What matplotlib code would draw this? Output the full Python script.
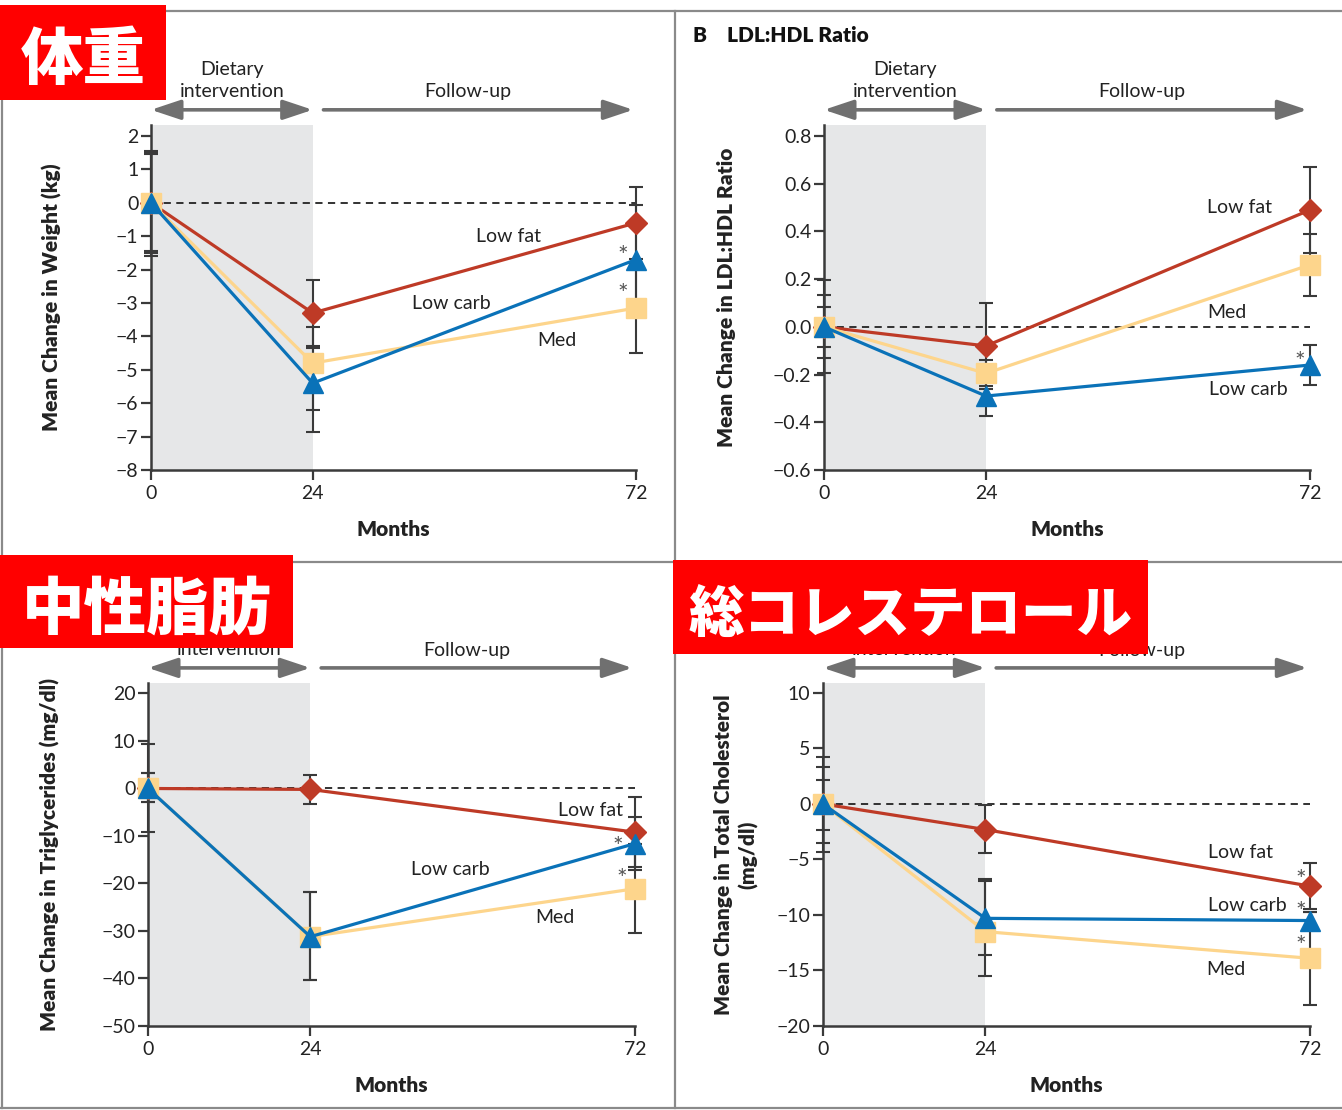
import matplotlib
matplotlib.use("Agg")
import numpy as np
import matplotlib.pyplot as plt
from matplotlib.lines import Line2D
from matplotlib.patches import Rectangle

plt.rcParams['font.family'] = ['Lato', 'Noto Sans CJK JP', 'DejaVu Sans']

W, H = 1342, 1110

# ---------- data ----------
months = [0, 24, 72]
series_names = ["Low fat", "Med", "Low carb"]

# weight (kg)
wt_mean = {"Low fat": [0, -3.3, -0.6], "Med": [0, -4.8, -3.15], "Low carb": [0, -5.4, -1.7]}
wt_lo = {"Low fat": [-1.5, -4.3, -1.67], "Med": [-1.45, -6.2, -4.5], "Low carb": [-1.58, -6.87, -3.3]}
wt_hi = {"Low fat": [1.5, -2.3, 0.47], "Med": [1.45, -3.72, -1.8], "Low carb": [1.54, -4.35, -0.08]}

# LDL:HDL ratio
lh_mean = {"Low fat": [0, -0.08, 0.49], "Med": [0, -0.195, 0.26], "Low carb": [0, -0.29, -0.16]}
lh_lo = {"Low fat": [-0.085, -0.26, 0.31], "Med": [-0.131, -0.25, 0.13], "Low carb": [-0.194, -0.375, -0.245]}
lh_hi = {"Low fat": [0.085, 0.10, 0.67], "Med": [0.134, -0.14, 0.39], "Low carb": [0.197, -0.21, -0.075]}

# triglycerides (mg/dl)
tg_mean = {"Low fat": [0, -0.2, -9.2], "Med": [0, -31.2, -21.1], "Low carb": [0, -31.2, -11.6]}
tg_lo = {"Low fat": [-2.8, -3.3, -16.5], "Med": [-9.1, -40.4, -30.5], "Low carb": [-2.8, -40.4, -17.2]}
tg_hi = {"Low fat": [3.2, 2.8, -1.9], "Med": [9.3, -21.8, -11.7], "Low carb": [3.2, -21.8, -6.0]}

# total cholesterol (mg/dl)
tc_mean = {"Low fat": [0, -2.3, -7.4], "Med": [0, -11.5, -13.9], "Low carb": [0, -10.3, -10.5]}
tc_lo = {"Low fat": [-2.3, -4.4, -9.5], "Med": [-4.3, -15.5, -18.1], "Low carb": [-3.5, -13.6, -11.3]}
tc_hi = {"Low fat": [2.2, -0.05, -5.3], "Med": [4.24, -6.8, -9.7], "Low carb": [3.34, -6.95, -9.7]}

wt_ticks = [2, 1, 0, -1, -2, -3, -4, -5, -6, -7, -8]
lh_ticks = [0.8, 0.6, 0.4, 0.2, 0.0, -0.2, -0.4, -0.6]
tg_ticks = [20, 10, 0, -10, -20, -30, -40, -50]
tc_ticks = [10, 5, 0, -5, -10, -15, -20]

# series label positions (month, value) and asterisks
wt_labels = {"Low fat": (53.1, -1.0), "Low carb": (44.6, -3.0), "Med": (60.2, -4.13)}
wt_stars = [(70.0, -1.6), (70.0, -2.75)]
lh_labels = {"Low fat": (61.6, 0.5), "Med": (59.7, 0.06), "Low carb": (62.8, -0.264)}
lh_stars = [(70.5, -0.15)]
tg_labels = {"Low fat": (65.4, -4.6), "Low carb": (44.7, -17.1), "Med": (60.2, -27.2)}
tg_stars = [(69.5, -12.4), (70.0, -19.2)]
tc_labels = {"Low fat": (61.7, -4.4), "Low carb": (62.7, -9.1), "Med": (59.6, -14.9)}
tc_stars = [(70.6, -6.9), (70.6, -9.8), (70.6, -12.85)]

style = {
    "Low fat": dict(color="#BE3A26", marker="D", ms=11, z=3),
    "Med": dict(color="#FDD58C", marker="s", ms=14, z=4),
    "Low carb": dict(color="#0A72B8", marker="^", ms=14, z=5),
}

fig = plt.figure(figsize=(W / 100, H / 100), dpi=100)


def fx(px):
    return px / W


def fy(py):
    return 1 - py / H


def px_axes(left, top, right, bottom):
    return fig.add_axes([fx(left), fy(bottom), (right - left) / W, (bottom - top) / H])


def fmt_tick(v, dec):
    s = f"{abs(v):.{dec}f}"
    return ("\u2212" + s) if v < 0 else s


def draw_panel(ax, mean, lo, hi, ylim, ticks, dec, ylabel, labels, stars, ylab_x):
    ax.set_xlim(0, 72)
    ax.set_ylim(*ylim)
    ax.axvspan(0, 24, color="#e6e7e8", lw=0, zorder=0)
    ax.axhline(0, color="#222222", lw=1.3, ls=(0, (4, 3)), zorder=1)

    for name in series_names:
        m = np.array(mean[name])
        err = [m - np.array(lo[name]), np.array(hi[name]) - m]
        eb = ax.errorbar(months, m, yerr=err, fmt="none", ecolor="#3a3a3a",
                         elinewidth=1.5, capsize=5, capthick=1.5, zorder=2)
        for art in list(eb.lines[1]) + list(eb.lines[2]):
            art.set_clip_on(False)
    for name in series_names:
        st = style[name]
        ax.plot(months, mean[name], color=st["color"], lw=2.3, marker=st["marker"],
                ms=st["ms"], mec=st["color"], mfc=st["color"], zorder=st["z"], clip_on=False)

    for name, (x, y) in labels.items():
        ax.text(x, y, name, ha="center", va="center", fontsize=14, color="#222222", zorder=6)
    for x, y in stars:
        ax.text(x, y, "*", ha="center", va="center", fontsize=18, color="#555555", zorder=6)

    for s in ["top", "right"]:
        ax.spines[s].set_visible(False)
    for s in ["left", "bottom"]:
        ax.spines[s].set_color("#3a3a3a")
        ax.spines[s].set_linewidth(1.8)
    ax.spines["bottom"].set_bounds(0, 72)

    ax.set_xticks(months)
    ax.set_xticklabels([str(m) for m in months])
    ax.set_yticks(ticks)
    ax.set_yticklabels([fmt_tick(t, dec) for t in ticks])
    ax.tick_params(axis="x", length=7.5, width=1.6, color="#3a3a3a", pad=3, labelsize=14, labelcolor="#222222")
    ax.tick_params(axis="y", length=7, width=1.6, color="#3a3a3a", pad=2, labelsize=14, labelcolor="#222222")

    ax.set_xlabel("Months", fontsize=15, fontweight="heavy", color="#222222")
    ax.xaxis.set_label_coords(0.5, -0.145)
    ax.set_ylabel(ylabel, fontsize=15, fontweight="heavy", color="#222222", linespacing=1.3)
    ax.yaxis.set_label_coords(ylab_x, 0.5)

    # period arrows
    ya = 1.044
    ax.annotate("", xy=(24, ya), xytext=(0, ya), xycoords=("data", "axes fraction"),
                arrowprops=dict(arrowstyle="<|-|>,head_length=0.9,head_width=0.3", color="#707070",
                                lw=2.6, shrinkA=0, shrinkB=0, mutation_scale=20), annotation_clip=False)
    ax.annotate("", xy=(71.6, ya), xytext=(25.6, ya), xycoords=("data", "axes fraction"),
                arrowprops=dict(arrowstyle="-|>,head_length=0.9,head_width=0.3", color="#707070",
                                lw=2.6, shrinkA=0, shrinkB=0, mutation_scale=20), annotation_clip=False)
    ax.text(12, 1.13, "Dietary\nintervention", transform=ax.get_xaxis_transform(), ha="center",
            va="center", fontsize=14, color="#222222", linespacing=1.35)
    ax.text(47.1, 1.096, "Follow-up", transform=ax.get_xaxis_transform(), ha="center",
            va="center", fontsize=14, color="#222222")


ax1 = px_axes(151, 125, 636, 470)
draw_panel(ax1, wt_mean, wt_lo, wt_hi, (-8, 2.33), wt_ticks, 0,
           "Mean Change in Weight (kg)", wt_labels, wt_stars, -0.183)

ax2 = px_axes(824, 125, 1310, 470)
draw_panel(ax2, lh_mean, lh_lo, lh_hi, (-0.6, 0.846), lh_ticks, 1,
           "Mean Change in LDL:HDL Ratio", lh_labels, lh_stars, -0.182)

ax3 = px_axes(148, 683, 635, 1026)
draw_panel(ax3, tg_mean, tg_lo, tg_hi, (-50, 22.2), tg_ticks, 0,
           "Mean Change in Triglycerides (mg/dl)", tg_labels, tg_stars, -0.18)

ax4 = px_axes(823, 683, 1310, 1026)
draw_panel(ax4, tc_mean, tc_lo, tc_hi, (-20, 10.9), tc_ticks, 0,
           "Mean Change in Total Cholesterol\n(mg/dl)", tc_labels, tc_stars, -0.133)

# panel frames
frame_kw = dict(color="#8a8a8a", lw=1.6, transform=fig.transFigure)
fig.add_artist(Line2D([fx(0), fx(W)], [fy(11), fy(11)], **frame_kw))
fig.add_artist(Line2D([fx(0), fx(W)], [fy(562), fy(562)], **frame_kw))
fig.add_artist(Line2D([fx(0), fx(W)], [fy(1108), fy(1108)], **frame_kw))
fig.add_artist(Line2D([fx(2), fx(2)], [fy(11), fy(1108)], **frame_kw))
fig.add_artist(Line2D([fx(675), fx(675)], [fy(11), fy(1108)], **frame_kw))

fig.text(fx(692), fy(35), "B", fontsize=15, fontweight="heavy", va="center", ha="left", color="#111111")
fig.text(fx(727), fy(35), "LDL:HDL Ratio", fontsize=15, fontweight="heavy", va="center", ha="left", color="#111111")

# red title boxes
boxes = [
    ((0, 5, 166, 100), "体重", 45),
    ((0, 555, 293, 648), "中性脂肪", 45),
    ((673, 560, 1148, 654), "総コレステロール", 40),
]
for (l, t, r, b), txt, size in boxes:
    fig.add_artist(Rectangle((fx(l), fy(b)), (r - l) / W, (b - t) / H, transform=fig.transFigure,
                             facecolor="#ff0000", edgecolor="none", zorder=10))
    fig.text(fx((l + r) / 2), fy((t + b) / 2 + 8), txt, fontsize=size, fontweight="black", color="white",
             ha="center", va="center", family=["Noto Sans CJK JP", "DejaVu Sans"], zorder=11)

fig.savefig("out.png", dpi=100)
